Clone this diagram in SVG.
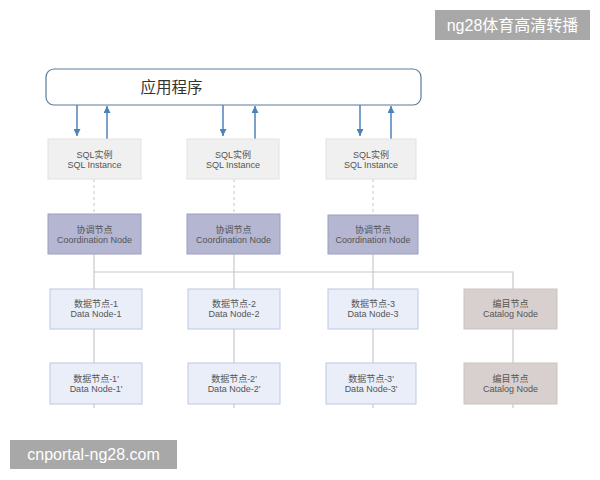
<svg xmlns="http://www.w3.org/2000/svg" width="600" height="480" viewBox="0 0 600 480">
<style>
text{font-family:"Liberation Sans","Noto Sans CJK SC",Arial,sans-serif;text-anchor:middle}
.t{font-size:9px;fill:#555}
.sql{fill:#f0f0f0;stroke:#e2e2e2;stroke-width:1}
.crd{fill:#b4b6d2;stroke:#9c9ec2;stroke-width:1}
.dat{fill:#eaeef9;stroke:#bcc8e4;stroke-width:1}
.cat{fill:#d8d0cf;stroke:#cbc3c1;stroke-width:1}
.ln{stroke:#c8c8c8;stroke-width:1.2;fill:none}
.dash{stroke:#c8c8c8;stroke-width:1;stroke-dasharray:3,3;fill:none}
.ar{stroke:#4d82b8;stroke-width:1.5;fill:none;marker-end:url(#ah)}
.wm{fill:#a8a8a8}
.wt{fill:#fff;font-size:16px}
</style>
<defs>
<marker id="ah" viewBox="0 0 10 10" refX="10" refY="5" markerWidth="7" markerHeight="7" orient="auto" markerUnits="userSpaceOnUse">
<path d="M0,0 L10,5 L0,10 z" fill="#4d82b8"/>
</marker>
</defs>
<rect width="600" height="480" fill="#fff"/>
<g id="app">
<rect x="46" y="69" width="375" height="36" rx="8" fill="#fff" stroke="#5c7a99" stroke-width="1.2"/>
<text x="171.5" y="93" font-size="15.5" fill="#333">应用程序</text>
</g>
<g id="connectors">
<path class="ar" d="M77,105 V136"/>
<path class="ar" d="M107,139 V106"/>
<path class="ar" d="M223,105 V136"/>
<path class="ar" d="M255,139 V106"/>
<path class="ar" d="M360,105 V136"/>
<path class="ar" d="M391,139 V106"/>
<path class="dash" d="M94,179 V214 M234,179 V214 M373,179 V214"/>
<path class="ln" d="M94,254 V289 M234,254 V289 M373,254 V289 M94,272 H513 V289"/>
<path class="ln" d="M94,329 V363 M234,329 V363 M373,329 V363 M513,329 V363"/>
<path class="ln" d="M94,404 V408 M234,404 V408 M373,404 V408 M513,404 V408"/>
</g>
<g id="sql1"><rect class="sql" x="48" y="139" width="93" height="40"/><text class="t" x="94.5" y="158">SQL实例</text><text class="t" x="94.5" y="168">SQL Instance</text></g>
<g id="sql2"><rect class="sql" x="187" y="139" width="92" height="40"/><text class="t" x="233" y="158">SQL实例</text><text class="t" x="233" y="168">SQL Instance</text></g>
<g id="sql3"><rect class="sql" x="326" y="139" width="90" height="40"/><text class="t" x="371" y="158">SQL实例</text><text class="t" x="371" y="168">SQL Instance</text></g>
<g id="coord1"><rect class="crd" x="48" y="214" width="93" height="40"/><text class="t" x="94.5" y="233">协调节点</text><text class="t" x="94.5" y="243">Coordination Node</text></g>
<g id="coord2"><rect class="crd" x="187" y="214" width="93" height="40"/><text class="t" x="233.5" y="233">协调节点</text><text class="t" x="233.5" y="243">Coordination Node</text></g>
<g id="coord3"><rect class="crd" x="328" y="215" width="90" height="39"/><text class="t" x="373" y="233">协调节点</text><text class="t" x="373" y="243">Coordination Node</text></g>
<g id="data1"><rect class="dat" x="50" y="289" width="92" height="40"/><text class="t" x="96" y="307">数据节点-1</text><text class="t" x="96" y="317">Data Node-1</text></g>
<g id="data2"><rect class="dat" x="188" y="289" width="92" height="40"/><text class="t" x="234" y="307">数据节点-2</text><text class="t" x="234" y="317">Data Node-2</text></g>
<g id="data3"><rect class="dat" x="328" y="289" width="90" height="40"/><text class="t" x="373" y="307">数据节点-3</text><text class="t" x="373" y="317">Data Node-3</text></g>
<g id="catalog1"><rect class="cat" x="464" y="289" width="93" height="40"/><text class="t" x="510.5" y="307">编目节点</text><text class="t" x="510.5" y="317">Catalog Node</text></g>
<g id="data1b"><rect class="dat" x="50" y="363" width="92" height="41"/><text class="t" x="96" y="382">数据节点-1'</text><text class="t" x="96" y="392">Data Node-1'</text></g>
<g id="data2b"><rect class="dat" x="188" y="363" width="92" height="41"/><text class="t" x="234" y="382">数据节点-2'</text><text class="t" x="234" y="392">Data Node-2'</text></g>
<g id="data3b"><rect class="dat" x="326" y="363" width="90" height="41"/><text class="t" x="371" y="382">数据节点-3'</text><text class="t" x="371" y="392">Data Node-3'</text></g>
<g id="catalog2"><rect class="cat" x="464" y="363" width="93" height="41"/><text class="t" x="510.5" y="382">编目节点</text><text class="t" x="510.5" y="392">Catalog Node</text></g>
<g id="wm1"><rect class="wm" x="435" y="10" width="155" height="30"/><text class="wt" x="512.5" y="31">ng28体育高清转播</text></g>
<g id="wm2"><rect class="wm" x="10" y="440" width="167" height="29"/><text class="wt" x="93.5" y="460">cnportal-ng28.com</text></g>
</svg>
